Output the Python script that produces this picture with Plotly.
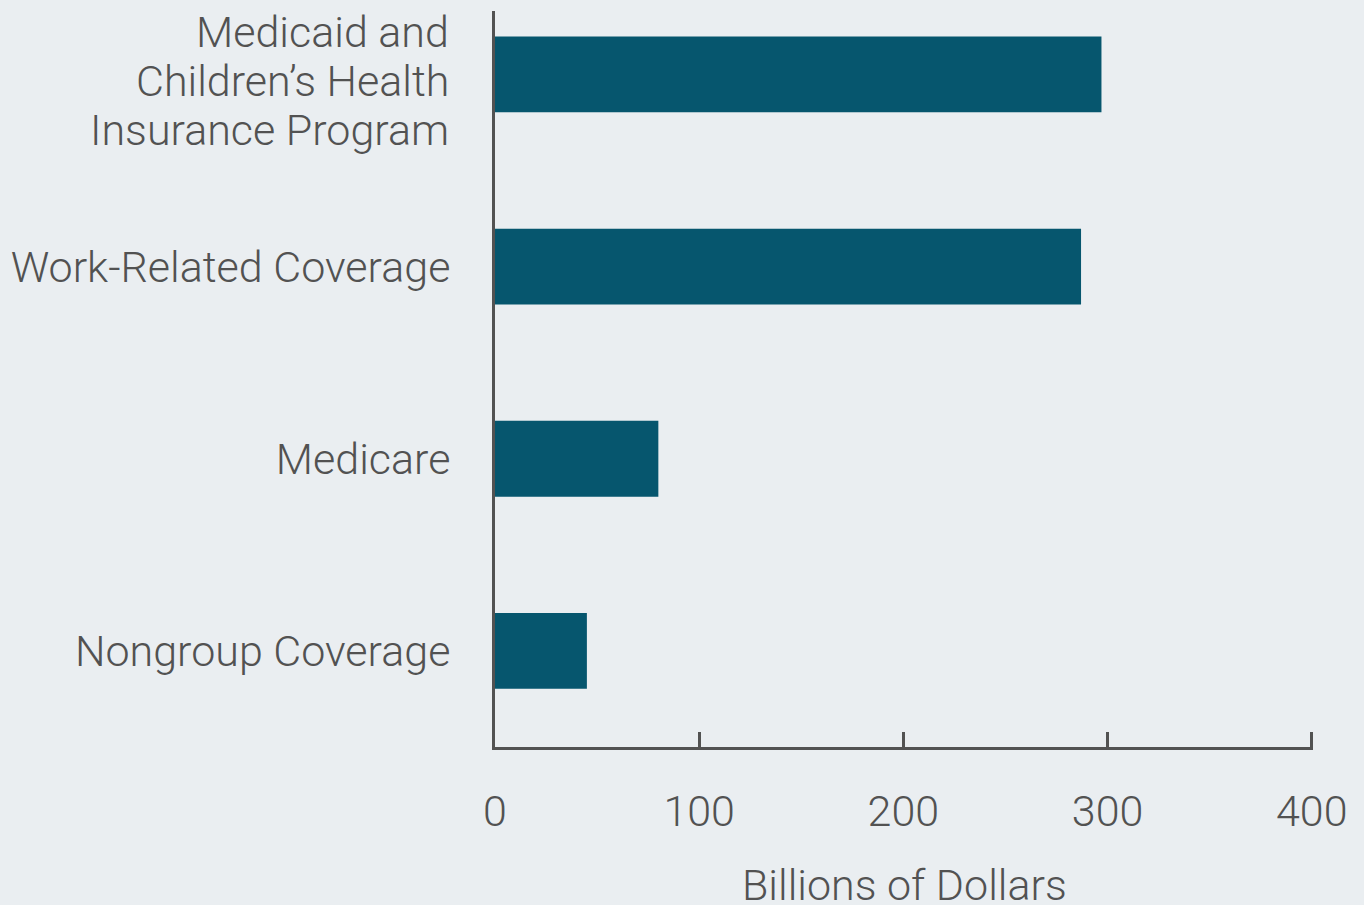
import plotly.graph_objects as go

categories = ["Nongroup Coverage", "Medicare", "Work-Related Coverage",
              "Medicaid and Children\u2019s Health Insurance Program"]
tick_labels = ["Nongroup Coverage", "Medicare", "Work-Related Coverage", ""]
multiline_label = ["Medicaid and", "Children\u2019s Health", "Insurance Program"]
values = [45, 80, 287, 297]
x_ticks = [0, 100, 200, 300, 400]
x_title = "Billions of Dollars"

BG = "#EAEEF1"
BAR = "#06566E"
TXT = "#525252"
FONT = "Roboto"
FS = 43
W = 300

fig = go.Figure(go.Bar(
    y=categories, x=values, orientation="h",
    marker=dict(color=BAR, line=dict(width=0)),
    width=0.395,
))

for i, line in enumerate(multiline_label):
    fig.add_annotation(
        x=0, xref="paper", xanchor="right", xshift=-44,
        y=categories[3], yref="y", yanchor="middle", yshift=(1 - i) * 49 - 7,
        text=line, showarrow=False,
        font=dict(family=FONT, size=FS, color=TXT, weight=W),
    )

fig.add_annotation(
    x=0.5, xref="paper", xanchor="center",
    y=0, yref="paper", yanchor="middle", yshift=-138,
    text=x_title, showarrow=False,
    font=dict(family=FONT, size=FS, color=TXT, weight=W),
)

fig.update_layout(
    width=1364, height=905,
    paper_bgcolor=BG, plot_bgcolor=BG,
    margin=dict(l=495, r=51, t=11, b=158, autoexpand=False),
    showlegend=False,
    font=dict(family=FONT, color=TXT, size=FS, weight=W),
)
fig.update_xaxes(
    range=[0, 400.6], tickvals=x_ticks, ticktext=[str(v) for v in x_ticks],
    showgrid=False, zeroline=False, automargin=False,
    showline=True, linecolor=TXT, linewidth=3,
    ticks="inside", ticklen=15, tickwidth=3, tickcolor=TXT,
    tickfont=dict(size=FS, color=TXT, family=FONT, weight=W),
    ticklabelstandoff=24,
)
fig.update_yaxes(
    range=[-0.5, 3.33], categoryorder="array", categoryarray=categories,
    tickvals=categories, ticktext=tick_labels,
    showgrid=False, zeroline=False, automargin=False,
    showline=True, linecolor=TXT, linewidth=3,
    ticks="", tickfont=dict(size=FS, color=TXT, family=FONT, weight=W),
    ticklabelstandoff=33,
)

fig.write_html("out.html", config={"displayModeBar": False},
               post_script="document.body.style.margin='0';document.body.style.overflow='hidden';")
